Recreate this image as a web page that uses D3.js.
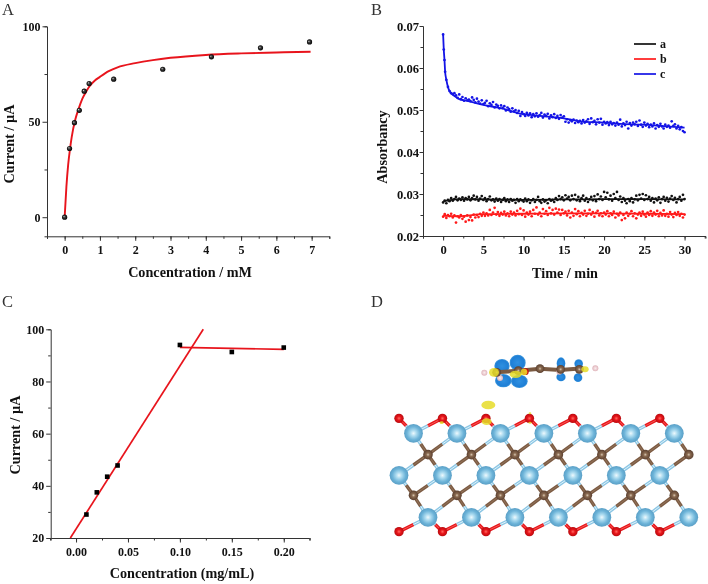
<!DOCTYPE html>
<html><head><meta charset="utf-8">
<script src="https://cdn.jsdelivr.net/npm/d3@7"></script>
<style>
html,body{margin:0;padding:0;background:#fff}
svg{display:block;filter:blur(0.5px)}
text{font-family:"Liberation Serif","Times New Roman",serif;fill:#111}
.tick-label{font-weight:700;font-size:12px}
.tick-label-b{font-weight:700;font-size:12.6px}
.axis-title{font-weight:700;font-size:14.2px}
.panel{font-size:16.5px;fill:#333}
</style></head><body>
<svg id="c" width="708" height="584" xmlns="http://www.w3.org/2000/svg"></svg>
<script>
// Panel A
const concA = [0,0.139,0.278,0.416,0.555,0.694,1.39,2.78,4.16,5.55,6.94];
const currentA = [0,36,49.5,56,66,70,72.3,77.5,84,88.7,91.8];
const fitAx = [0,0.05,0.1,0.15,0.2,0.3,0.4,0.5,0.6,0.7,0.85,1,1.25,1.5,2,2.5,3,4,5,6,6.97];
const fitAy = [0,16,27.5,35.5,42,51,57,62,65.5,68.5,71.5,73.5,76.5,78.5,80.7,82.3,83.5,85,85.8,86.3,86.7];
const xTicksA = [0,1,2,3,4,5,6,7];
const yTicksA = [0,50,100];
// Panel B (absorbance x 1e5)
const stepB = 0.2;
const dotsA = [2800,2840,2780,2860,2830,2900,2840,2880,2930,2850,2890,2860,2920,2840,2900,2870,2930,2850,2900,2960,2870,2930,2840,2890,2950,2860,2900,2830,2880,2940,2850,2870,2820,2890,2840,2880,2810,2860,2900,2830,2870,2810,2880,2840,2860,2790,2880,2830,2870,2850,2820,2890,2830,2870,2790,2850,2880,2810,2860,2930,2830,2790,2870,2820,2850,2780,2880,2840,2860,2810,2900,2860,2950,2880,2920,2850,2970,2890,2930,2850,2960,2880,2980,2850,2930,2830,2900,2960,2840,2900,2810,2870,2930,2850,2950,2830,2990,2880,2940,2860,3050,2920,3030,2870,2960,2840,3000,2900,3050,2860,2940,2810,2900,2840,2780,2880,2830,2900,2800,2870,2960,2850,2980,2890,3000,2860,2970,2880,2930,2840,2900,2800,2890,2850,2920,2790,2880,2930,2840,2910,2820,2890,2950,2860,2910,2800,2880,2930,2840,2980,2880];
const dotsB = [2460,2520,2430,2500,2470,2530,2440,2490,2320,2470,2440,2500,2410,2460,2340,2490,2380,2450,2370,2510,2440,2500,2450,2530,2480,2560,2480,2540,2490,2620,2500,2560,2670,2510,2570,2480,2550,2510,2580,2490,2540,2470,2580,2510,2560,2490,2600,2520,2650,2500,2610,2460,2560,2510,2580,2470,2620,2530,2680,2510,2560,2470,2640,2530,2590,2500,2670,2540,2620,2510,2650,2560,2630,2500,2620,2540,2580,2490,2600,2440,2560,2480,2640,2520,2590,2470,2550,2510,2600,2480,2530,2620,2510,2570,2460,2550,2600,2490,2540,2470,2560,2510,2590,2470,2540,2500,2580,2440,2530,2490,2560,2380,2500,2420,2560,2480,2530,2590,2470,2540,2420,2510,2560,2480,2580,2510,2460,2560,2500,2590,2480,2560,2510,2600,2470,2550,2490,2610,2480,2530,2460,2570,2510,2450,2550,2500,2570,2480,2530,2440,2510];
const earlyTimeC = [0,0.08,0.17,0.25,0.4,0.6,0.8,1.0];
const earlyDotsC = [6800,6440,6190,5910,5720,5550,5450,5400];
const dotsC = [5380,5400,5350,5290,5370,5260,5310,5220,5280,5230,5250,5210,5300,5240,5180,5270,5200,5150,5230,5140,5170,5220,5090,5160,5120,5190,5060,5130,5100,5040,5110,5050,5090,4990,5060,5020,4960,5040,4970,5000,4930,4980,4860,4950,4900,4860,4930,4870,4920,4830,4900,4850,4920,4840,4880,4930,4820,4890,4860,4910,4800,4870,4830,4900,4810,4860,4790,4880,4820,4850,4720,4780,4700,4760,4730,4770,4690,4750,4710,4740,4680,4760,4700,4730,4780,4670,4800,4710,4740,4660,4780,4700,4790,4650,4720,4680,4710,4640,4720,4660,4690,4630,4700,4650,4770,4610,4680,4640,4720,4560,4690,4630,4700,4660,4720,4620,4750,4650,4600,4700,4630,4670,4590,4650,4610,4680,4560,4640,4600,4670,4610,4560,4650,4600,4630,4580,4730,4620,4660,4560,4620,4540,4590,4500,4470];
const fitTimeAB = [0,0.5,2,5,10,15,20,25,30];
const fitLineA = [2820,2840,2880,2870,2860,2870,2880,2880,2870];
const fitLineB = [2480,2480,2470,2520,2530,2540,2540,2530,2520];
const fitTimeC = [0,0.08,0.17,0.25,0.4,0.6,0.8,1,1.5,2,3,5,7,10,12,15,17,20,22,25,27,30];
const fitLineC = [6800,6440,6190,5910,5720,5550,5450,5400,5320,5260,5220,5120,5050,4900,4860,4800,4730,4700,4670,4650,4620,4580];
const legendNames = ["a","b","c"];
const legendColors = ["#111111","#ff1a1a","#1414e6"];
const xTicksB = [0,5,10,15,20,25,30];
const yTicksB = [0.02,0.03,0.04,0.05,0.06,0.07];
// Panel C
const concC = [0.01,0.02,0.03,0.04,0.10,0.15,0.20];
const currentC = [29,37.5,43.5,47.8,94,91.3,93];
const riseX = [-0.0055,0.1225];
const riseY = [20,100];
const flatX = [0.10,0.20];
const flatY = [93.1,92.3];
const xTicksC = [0,0.05,0.10,0.15,0.20];
const yTicksC = [20,40,60,80,100];
// Panel D: lattice columns and rows
const cols = [0,1,2,3,4,5,6];
const rowShift = {O1:0,Ti1:1/3,C1:2/3,Ti2:0,C2:1/3,Ti3:2/3,O2:0};
const rowY = {O1:265,Ti1:310,C1:374,Ti2:436,C2:496,Ti3:562,O2:605};
const molBackbone = [[380,127],[445,122],[510,116],[570,120],[640,115]];
const molAtoms = [
 {k:"H",x:343,y:128},{k:"H",x:676,y:115},{k:"H",x:390,y:144},{k:"H",x:568,y:125},
 {k:"C",x:380,y:127},{k:"C",x:445,y:122},{k:"C",x:510,y:116},{k:"C",x:572,y:118},{k:"C",x:628,y:118},{k:"O",x:466,y:125}];
const blobBlue = [[396,108,23,21],[443,98,24,24],[400,152,25,20],[448,154,25,20],[573,100,13,18],[573,141,14,13],[626,101,13,13],[624,143,13,13]];
const blobYellow = [[372,127,15,13],[437,133,18,11],[462,126,10,10],[645,118,11,9],[355,225,21,13],[350,275,15,10],[215,278,6,4],[480,250,4,3],[480,278,5,3]];

const svg = d3.select("#c");
const defs = svg.append("defs");
function grad(id, stops, fx, fy){
  const g = defs.append("radialGradient").attr("id",id).attr("fx",fx||"50%").attr("fy",fy||"50%");
  stops.forEach(s=>g.append("stop").attr("offset",s[0]).attr("stop-color",s[1]));
}
grad("gTi",[["0%","#eef9fd"],["30%","#aedcf0"],["70%","#6cb3d8"],["100%","#5a9fc6"]]);
grad("gC",[["0%","#d9c8b4"],["35%","#8a6a50"],["100%","#5b4030"]]);
grad("gO",[["0%","#ff6a60"],["45%","#e8141a"],["100%","#b80c10"]]);
grad("gH",[["0%","#fbeef0"],["100%","#dfb4ba"]]);
grad("gDot",[["0%","#d8d8d8"],["35%","#444"],["100%","#000"]],"35%","35%");
grad("gBlue",[["0%","#2f90e0"],["80%","#1f7fd6"],["100%","#3f98dc"]]);

const axisCol = "#333";
function panelAxes(x, y, xTicks, yTicks, xMinor, yMinor, xFmt, yFmt, opt){
  const xb = y.range()[0], yl = x.range()[0];
  const gx = svg.append("g").attr("transform",`translate(0,${xb})`);
  gx.call(d3.axisBottom(x).tickValues(xMinor).tickSize(2.5).tickFormat(""));
  const gxm = svg.append("g").attr("transform",`translate(0,${xb})`).call(d3.axisBottom(x).tickValues(xTicks).tickSize(4.5).tickPadding(5).tickFormat(xFmt));
  gxm.select(".domain").remove();
  const gy = svg.append("g").attr("transform",`translate(${yl},0)`);
  gy.call(d3.axisLeft(y).tickValues(yMinor).tickSize(2.5).tickFormat(""));
  const gym = svg.append("g").attr("transform",`translate(${yl},0)`).call(d3.axisLeft(y).tickValues(yTicks).tickSize(opt.ySize).tickPadding(opt.yPad).tickFormat(yFmt));
  gym.select(".domain").remove();
  svg.selectAll("g .domain").attr("stroke",axisCol).attr("stroke-width",1);
  svg.selectAll("g .tick line").attr("stroke",axisCol);
  [gxm,gym].forEach(g=>g.selectAll("text").attr("class",opt.cls).attr("font-family",null).attr("font-size",null));
}
function title(t,x,y,rot){
  const n = svg.append("text").attr("class","axis-title").attr("text-anchor","middle").text(t);
  if(rot) n.attr("transform",`translate(${x},${y}) rotate(-90)`); else n.attr("x",x).attr("y",y);
}
function panelLetter(t,x,y){ svg.append("text").attr("class","panel").attr("x",x).attr("y",y).text(t); }

// ---- A
{
  const x = d3.scaleLinear().domain([-0.5,7.5]).range([47,329.3]);
  const y = d3.scaleLinear().domain([-10,100]).range([236.3,26.3]);
  panelAxes(x,y,xTicksA,yTicksA,d3.range(-0.5,7.6,0.5),[25,75],d3.format("d"),d3.format("d"),{ySize:4.5,yPad:2,cls:"tick-label"});
  svg.append("path").attr("fill","none").attr("stroke","#e8141c").attr("stroke-width",1.9)
    .attr("d",d3.line().x(d=>x(d[0])).y(d=>y(d[1])).curve(d3.curveMonotoneX)(d3.zip(fitAx,fitAy)));
  svg.append("g").selectAll("circle").data(d3.zip(concA,currentA)).join("circle")
    .attr("cx",d=>x(d[0])).attr("cy",d=>y(d[1])).attr("r",2.6).attr("fill","url(#gDot)");
  title("Concentration / mM",190,277);
  title("Current / µA",14,144,true);
  panelLetter("A",2,15);
}
// ---- B
{
  const x = d3.scaleLinear().domain([-2.5,32.6]).range([423,705.5]);
  const y = d3.scaleLinear().domain([0.02,0.07]).range([236,26]);
  panelAxes(x,y,xTicksB,yTicksB,d3.range(-2.5,32.6,2.5),d3.range(0.025,0.07,0.01),d3.format("d"),d3.format(".2f"),{ySize:3.5,yPad:0.5,cls:"tick-label-b"});
  const line = d3.line().x(d=>x(d[0])).y(d=>y(d[1]/1e5)).curve(d3.curveMonotoneX);
  const regular = a => a.map((v,i)=>[i*stepB,v]);
  const seriesC = d3.zip(earlyTimeC,earlyDotsC).concat(dotsC.map((v,i)=>[1.2+i*stepB,v]));
  const series = [
    {dots:regular(dotsA),fit:d3.zip(fitTimeAB,fitLineA),c:legendColors[0]},
    {dots:regular(dotsB),fit:d3.zip(fitTimeAB,fitLineB),c:legendColors[1]},
    {dots:seriesC,fit:d3.zip(fitTimeC,fitLineC),c:legendColors[2]}
  ];
  series.forEach(s=>{
    svg.append("g").selectAll("circle").data(s.dots).join("circle")
      .attr("cx",d=>x(d[0])).attr("cy",d=>y(d[1]/1e5)).attr("r",1.35).attr("fill",s.c);
    svg.append("path").attr("fill","none").attr("stroke",s.c).attr("stroke-width",1.8).attr("d",line(s.fit));
  });
  const leg = svg.append("g").selectAll("g").data(legendNames).join("g")
    .attr("transform",(d,i)=>`translate(634,${44+i*15})`);
  leg.append("line").attr("x2",22).attr("stroke",(d,i)=>legendColors[i]).attr("stroke-width",1.7);
  leg.append("text").attr("x",26).attr("y",4).attr("class","tick-label").text(d=>d);
  title("Time / min",565,278);
  title("Absorbancy",387,147,true);
  panelLetter("B",371,15);
}
// ---- C
{
  const x = d3.scaleLinear().domain([-0.0244,0.2246]).range([50.7,309.3]);
  const y = d3.scaleLinear().domain([20,100]).range([538,329.3]);
  panelAxes(x,y,xTicksC,yTicksC,d3.range(-0.025,0.226,0.025),d3.range(30,100,20),d3.format(".2f"),d3.format("d"),{ySize:4.5,yPad:2,cls:"tick-label"});
  const l = d3.line().x(d=>x(d[0])).y(d=>y(d[1]));
  [d3.zip(riseX,riseY),d3.zip(flatX,flatY)].forEach(s=>
    svg.append("path").attr("fill","none").attr("stroke","#e8141c").attr("stroke-width",1.7).attr("d",l(s)));
  svg.append("g").selectAll("rect").data(d3.zip(concC,currentC)).join("rect")
    .attr("x",d=>x(d[0])-2.3).attr("y",d=>y(d[1])-2.3).attr("width",4.6).attr("height",4.6).attr("fill","#000");
  title("Concentration (mg/mL)",182,578);
  title("Current / µA",20,435,true);
  panelLetter("C",2,307);
}
// ---- D
{
  const sx = d3.scaleLinear().domain([0,338*3]).range([370,708]);
  const sy = d3.scaleLinear().domain([0,220*3]).range([330,550]);
  const scol = d3.scaleLinear().domain([0,1]).range([87,217.4]);
  const pos = (row,i)=>[sx(scol(i+rowShift[row])),sy(rowY[row])];
  const colorOf = {O:"#e8141a",T:"#8cc6e4",C:"#7b5a42"};
  const kind = r=>r[0];
  const bonds = [];
  cols.forEach(i=>{
    const add=(a,ai,b,bi)=>{ if(ai>=0&&ai<7&&bi>=0&&bi<7) bonds.push([a,ai,b,bi]); };
    add("O1",i,"Ti1",i); add("Ti1",i,"O1",i+1);
    add("Ti1",i,"C1",i); add("C1",i,"Ti1",i+1);
    add("Ti2",i,"C1",i); add("C1",i,"Ti2",i+1);
    add("Ti2",i,"C2",i); add("C2",i,"Ti2",i+1);
    add("C2",i,"Ti3",i); add("Ti3",i,"C2",i+1);
    add("O2",i,"Ti3",i-1); add("O2",i,"Ti3",i);
  });
  const gb = svg.append("g");
  bonds.forEach(b=>{
    const p=pos(b[0],b[1]), q=pos(b[2],b[3]), m=[(p[0]+q[0])/2,(p[1]+q[1])/2];
    [[p,m,b[0]],[m,q,b[2]]].forEach(s=>{
      const k=kind(s[2]);
      gb.append("line").attr("x1",s[0][0]).attr("y1",s[0][1]).attr("x2",s[1][0]).attr("y2",s[1][1])
        .attr("stroke",colorOf[k]).attr("stroke-width",3.4);
      gb.append("line").attr("x1",s[0][0]).attr("y1",s[0][1]).attr("x2",s[1][0]).attr("y2",s[1][1])
        .attr("stroke",k==="T"?"#dff3fb":(k==="O"?"#f45a55":"#93745b")).attr("stroke-width",1);
    });
  });
  const rows = [["O1","gO",4.7],["Ti1","gTi",9.4],["C1","gC",4.8],["Ti2","gTi",9.4],["C2","gC",4.8],["Ti3","gTi",9.4],["O2","gO",4.7]];
  rows.forEach(r=>{
    svg.append("g").selectAll("circle").data(cols).join("circle")
      .attr("cx",i=>pos(r[0],i)[0]).attr("cy",i=>pos(r[0],i)[1]).attr("r",r[2]).attr("fill",`url(#${r[1]})`);
  });
  const ell = (g,d,fill,op)=>g.selectAll("ellipse").data(d).join("ellipse")
    .attr("cx",e=>sx(e[0])).attr("cy",e=>sy(e[1])).attr("rx",e=>e[2]/3).attr("ry",e=>e[3]/3).attr("fill",fill).attr("opacity",op);
  ell(svg.append("g"),blobBlue,"url(#gBlue)",1);
  svg.append("path").attr("fill","none").attr("stroke","#7b5a42").attr("stroke-width",4)
    .attr("d",d3.line().x(d=>sx(d[0])).y(d=>sy(d[1]))(molBackbone));
  const mr={H:3,C:4.4,O:3.4}, mf={H:"url(#gH)",C:"url(#gC)",O:"url(#gO)"};
  svg.append("g").selectAll("circle").data(molAtoms).join("circle")
    .attr("cx",d=>sx(d.x)).attr("cy",d=>sy(d.y)).attr("r",d=>mr[d.k]).attr("fill",d=>mf[d.k]);
  ell(svg.append("g"),blobYellow,"#e6dc28",0.85);
  panelLetter("D",371,307);
}
</script></body></html>
